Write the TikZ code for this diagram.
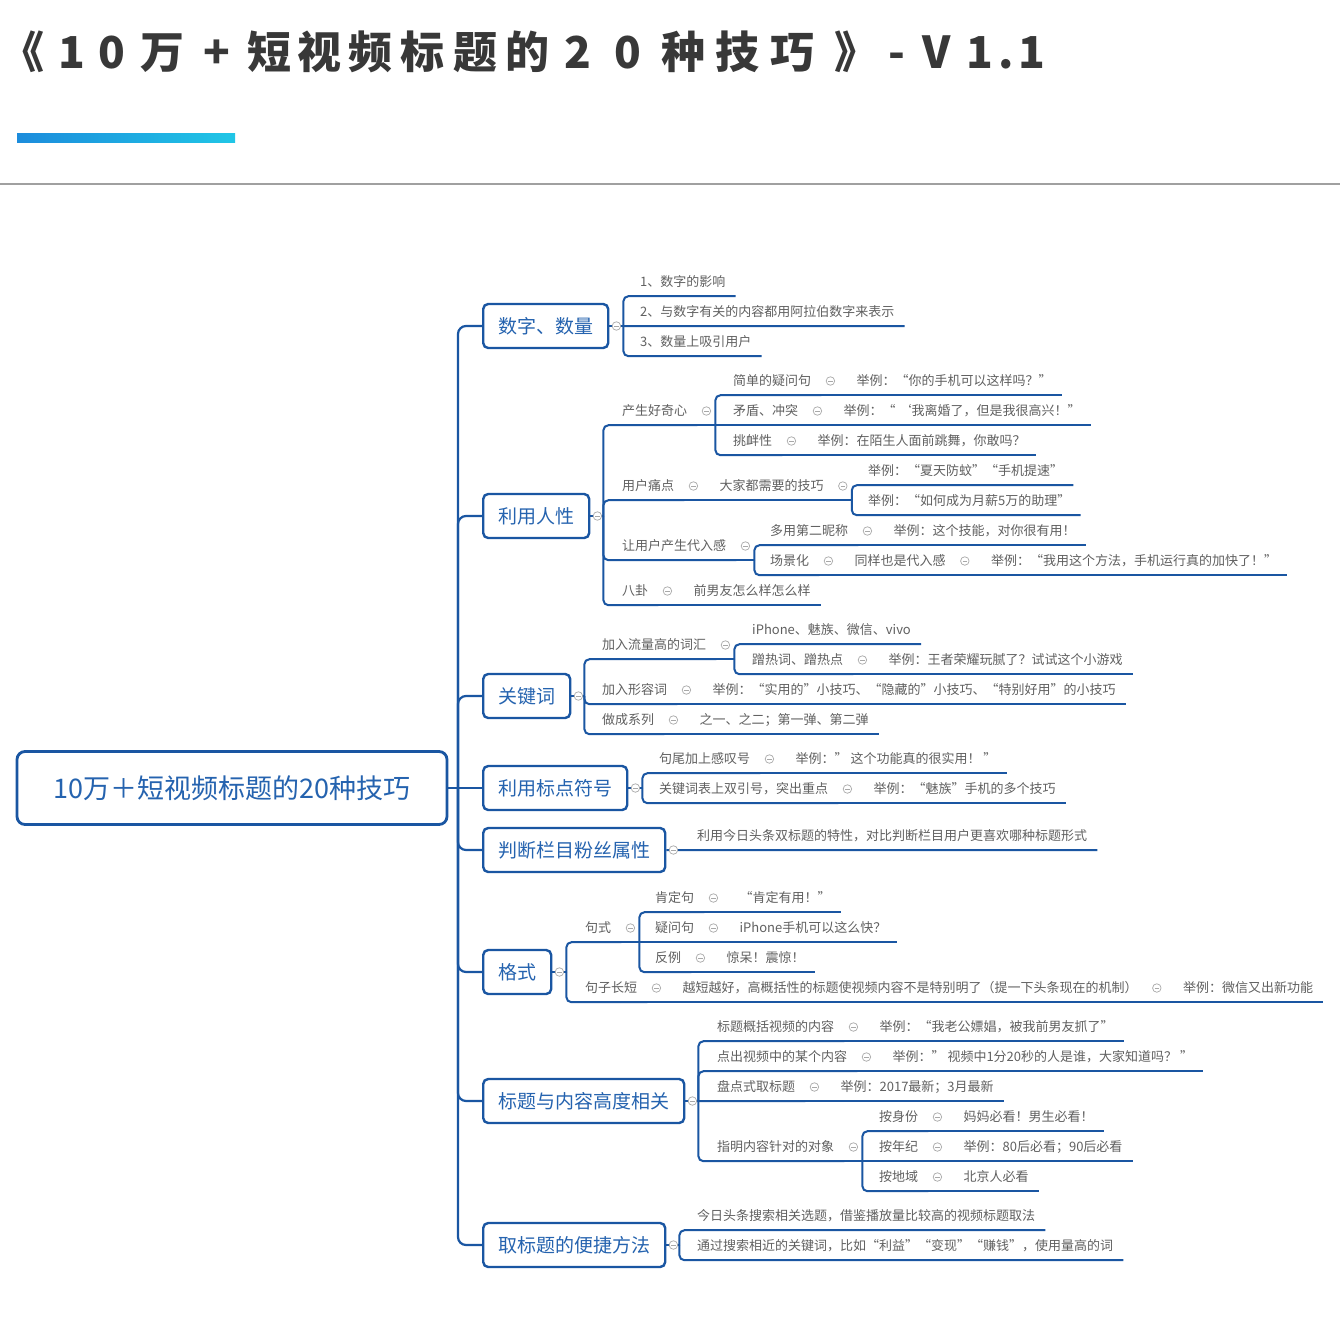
\documentclass[tikz,border=0pt]{standalone}
\usepackage{fontspec}
\setmainfont{Noto Sans CJK SC}
\newcommand\subsz{\fontsize{13}{15}\selectfont}
\newcommand\boxsz{\fontsize{19}{22}\selectfont}
\newcommand\rootsz{\fontsize{27}{30}\selectfont}
\newcommand\ttlsz{\fontsize{44}{48}\selectfont\bfseries}
\definecolor{lineblue}{HTML}{1A56A2}
\definecolor{textblue}{HTML}{2563AF}
\definecolor{subgray}{HTML}{606060}
\definecolor{mkgray}{HTML}{A8A8A8}
\definecolor{titlegray}{HTML}{383838}
\definecolor{sepgray}{HTML}{A0A0A0}
\definecolor{barL}{HTML}{1C8CDC}
\definecolor{barR}{HTML}{20C6E6}
\begin{document}
\begin{tikzpicture}[x=1pt,y=-1pt,
  ttl/.style={anchor=base, inner sep=0pt, font=\ttlsz, text=titlegray},
  rt/.style={draw=lineblue, line width=2.8pt, rounded corners=8pt, fill=white, minimum width=430pt, minimum height=73pt, font=\rootsz, text=textblue},
  bx/.style={draw=lineblue, line width=2.4pt, rounded corners=5pt, fill=white, minimum height=44pt, inner xsep=15pt, anchor=west, font=\boxsz, text=textblue},
  lf/.style={anchor=west, inner xsep=10pt, inner ysep=3pt, text height=15.94pt, text depth=6.06pt, font=\subsz, text=subgray},
  br/.style={draw=lineblue, line width=2pt, rounded corners=5pt},
  trunk/.style={draw=lineblue, line width=2.2pt, rounded corners=8pt},
  mk/.style={circle, draw=mkgray, fill=white, line width=0.7pt, minimum size=8.5pt, inner sep=0pt,
    path picture={\draw[mkgray, line width=0.7pt] ([xshift=-2.2pt]path picture bounding box.center) -- ([xshift=2.2pt]path picture bounding box.center);}}
]
\useasboundingbox (0,0) rectangle (1340,1333);
\fill[white] (0,0) rectangle (1340,1333);

% ---- header ----
\foreach \px/\ch [count=\i] in {23/《,72/1,112/0,162/万,217/+,269/短,319/视,370/频,422/标,475/题,527/的,578/2,628/0,683/种,737/技,792/巧,856/》,897/-,937/V,980/1,1006/.,1032/1}
  \node[ttl] (ttl\i) at (\px,68) {\ch};
\shade[left color=barL, right color=barR] (17,133) rectangle (235,142);
\draw[sepgray, line width=1.5pt] (0,184) -- (1340,184);

% ---- root and main topics ----
\node[rt] (root) at (232,788) {10万＋短视频标题的20种技巧};
\node[bx] (b1) at (482,326) {数字、数量};
\node[bx] (b2) at (482,516) {利用人性};
\node[bx] (b3) at (482,696) {关键词};
\node[bx] (b4) at (482,788) {利用标点符号};
\node[bx] (b5) at (482,850) {判断栏目粉丝属性};
\node[bx] (b6) at (482,972) {格式};
\node[bx] (b7) at (482,1101) {标题与内容高度相关};
\node[bx] (b8) at (482,1245) {取标题的便捷方法};

\coordinate (trk) at (458,788);
\draw[trunk] (root.east) -- (trk);
\foreach \b in {b1,b2,b3,b5,b6,b7,b8} \draw[trunk] (trk) |- (\b.west);
\draw[trunk] (trk) -- (b4.west);

% ---- 数字、数量 ----
\node[lf] (n11) at (630,282) {1、数字的影响};
\node[lf] (n12) at (630,312) {2、与数字有关的内容都用阿拉伯数字来表示};
\node[lf] (n13) at (630,342) {3、数量上吸引用户};
\coordinate (f1) at ([xshift=14pt]b1.east);
\draw[br] (b1.east) -- (f1);
\draw[br] (f1) |- (n11.south east);
\draw[br] (f1) -- (n12.south east);
\draw[br] (f1) |- (n13.south east);

% ---- 利用人性 ----
\node[lf] (n21) at (612,411) {产生好奇心};
\node[lf] (n22) at (612,486) {用户痛点};
\node[lf] (n22b) at ([xshift=25pt]n22.east) {大家都需要的技巧};
\node[lf] (n23) at (612,546) {让用户产生代入感};
\node[lf] (n24) at (612,591) {八卦};
\node[lf] (n24b) at ([xshift=25pt]n24.east) {前男友怎么样怎么样};
\node[lf] (n211) at (723,381) {简单的疑问句};
\node[lf] (n211b) at ([xshift=25pt]n211.east) {举例：“你的手机可以这样吗？”};
\node[lf] (n212) at (723,411) {矛盾、冲突};
\node[lf] (n212b) at ([xshift=25pt]n212.east) {举例：“ ‘我离婚了，但是我很高兴！”};
\node[lf] (n213) at (723,441) {挑衅性};
\node[lf] (n213b) at ([xshift=25pt]n213.east) {举例：在陌生人面前跳舞，你敢吗？};
\node[lf] (n221) at (858,471) {举例：“夏天防蚊”“手机提速”};
\node[lf] (n222) at (858,501) {举例：“如何成为月薪5万的助理”};
\node[lf] (n231) at (760,531) {多用第二昵称};
\node[lf] (n231b) at ([xshift=25pt]n231.east) {举例：这个技能，对你很有用！};
\node[lf] (n232) at (760,561) {场景化};
\node[lf] (n232b) at ([xshift=25pt]n232.east) {同样也是代入感};
\node[lf] (n232c) at ([xshift=25pt]n232b.east) {举例：“我用这个方法，手机运行真的加快了！”};

\coordinate (f2) at ([xshift=13pt]b2.east);
\draw[br] (b2.east) -- (f2);
\foreach \c in {n21,n22,n23,n24} \draw[br] (f2) |- (\c.south east);
\draw[br] (n22.south east) -- (n22b.south east);
\draw[br] (n24.south east) -- (n24b.south east);
\coordinate (f21) at ([xshift=18pt]n21.south east);
\draw[br] (n21.south east) -- (f21);
\draw[br] (f21) |- (n211.south east);
\draw[br] (f21) -- (n212.south east);
\draw[br] (f21) |- (n213.south east);
\draw[br] (n211.south east) -- (n211b.south east);
\draw[br] (n212.south east) -- (n212b.south east);
\draw[br] (n213.south east) -- (n213b.south east);
\coordinate (f22) at ([xshift=18pt]n22b.south east);
\draw[br] (n22b.south east) -- (f22);
\draw[br] (f22) |- (n221.south east);
\draw[br] (f22) |- (n222.south east);
\coordinate (f23) at ([xshift=18pt]n23.south east);
\draw[br] (n23.south east) -- (f23);
\draw[br] (f23) |- (n231.south east);
\draw[br] (f23) |- (n232.south east);
\draw[br] (n231.south east) -- (n231b.south east);
\draw[br] (n232.south east) -- (n232b.south east) -- (n232c.south east);

% ---- 关键词 ----
\node[lf] (n31) at (592,645) {加入流量高的词汇};
\node[lf] (n311) at (742,630) {iPhone、魅族、微信、vivo};
\node[lf] (n312) at (742,660) {蹭热词、蹭热点};
\node[lf] (n312b) at ([xshift=25pt]n312.east) {举例：王者荣耀玩腻了？试试这个小游戏};
\node[lf] (n32) at (592,690) {加入形容词};
\node[lf] (n32b) at ([xshift=25pt]n32.east) {举例：“实用的”小技巧、“隐藏的”小技巧、“特别好用”的小技巧};
\node[lf] (n33) at (592,720) {做成系列};
\node[lf] (n33b) at ([xshift=25pt]n33.east) {之一、之二；第一弹、第二弹};
\coordinate (f3) at ([xshift=13pt]b3.east);
\draw[br] (b3.east) -- (f3);
\foreach \c in {n31,n32,n33} \draw[br] (f3) |- (\c.south east);
\coordinate (f31) at ([xshift=18pt]n31.south east);
\draw[br] (n31.south east) -- (f31);
\draw[br] (f31) |- (n311.south east);
\draw[br] (f31) |- (n312.south east);
\draw[br] (n312.south east) -- (n312b.south east);
\draw[br] (n32.south east) -- (n32b.south east);
\draw[br] (n33.south east) -- (n33b.south east);

% ---- 利用标点符号 ----
\node[lf] (n41) at (649,759) {句尾加上感叹号};
\node[lf] (n41b) at ([xshift=25pt]n41.east) {举例：” 这个功能真的很实用！ ”};
\node[lf] (n42) at (649,789) {关键词表上双引号，突出重点};
\node[lf] (n42b) at ([xshift=25pt]n42.east) {举例：“魅族”手机的多个技巧};
\coordinate (f4) at ([xshift=14pt]b4.east);
\draw[br] (b4.east) -- (f4);
\draw[br] (f4) |- (n41.south east);
\draw[br] (f4) |- (n42.south east);
\draw[br] (n41.south east) -- (n41b.south east);
\draw[br] (n42.south east) -- (n42b.south east);

% ---- 判断栏目粉丝属性 ----
\node[lf] (n51) at (687,836) {利用今日头条双标题的特性，对比判断栏目用户更喜欢哪种标题形式};
\draw[br] (b5.east) -- (n51.south east);

% ---- 格式 ----
\node[lf] (n61) at (575,928) {句式};
\node[lf] (n611) at (645,898) {肯定句};
\node[lf] (n611b) at ([xshift=25pt]n611.east) {“肯定有用！”};
\node[lf] (n612) at (645,928) {疑问句};
\node[lf] (n612b) at ([xshift=25pt]n612.east) {iPhone手机可以这么快？};
\node[lf] (n613) at (645,958) {反例};
\node[lf] (n613b) at ([xshift=25pt]n613.east) {惊呆！震惊！};
\node[lf] (n62) at (575,988) {句子长短};
\node[lf] (n62b) at ([xshift=25pt]n62.east) {越短越好，高概括性的标题使视频内容不是特别明了（提一下头条现在的机制）};
\node[lf] (n62c) at ([xshift=25pt]n62b.east) {举例：微信又出新功能};
\coordinate (f6) at ([xshift=14pt]b6.east);
\draw[br] (b6.east) -- (f6);
\draw[br] (f6) |- (n61.south east);
\draw[br] (f6) |- (n62.south east);
\coordinate (f61) at ([xshift=18pt]n61.south east);
\draw[br] (n61.south east) -- (f61);
\draw[br] (f61) |- (n611.south east);
\draw[br] (f61) -- (n612.south east);
\draw[br] (f61) |- (n613.south east);
\draw[br] (n611.south east) -- (n611b.south east);
\draw[br] (n612.south east) -- (n612b.south east);
\draw[br] (n613.south east) -- (n613b.south east);
\draw[br] (n62.south east) -- (n62b.south east) -- (n62c.south east);

% ---- 标题与内容高度相关 ----
\node[lf] (n71) at (707,1027) {标题概括视频的内容};
\node[lf] (n71b) at ([xshift=25pt]n71.east) {举例：“我老公嫖娼，被我前男友抓了”};
\node[lf] (n72) at (707,1057) {点出视频中的某个内容};
\node[lf] (n72b) at ([xshift=25pt]n72.east) {举例：” 视频中1分20秒的人是谁，大家知道吗？ ”};
\node[lf] (n73) at (707,1087) {盘点式取标题};
\node[lf] (n73b) at ([xshift=25pt]n73.east) {举例：2017最新；3月最新};
\node[lf] (n74) at (707,1147) {指明内容针对的对象};
\node[lf] (n741) at (869,1117) {按身份};
\node[lf] (n741b) at ([xshift=25pt]n741.east) {妈妈必看！男生必看！};
\node[lf] (n742) at (869,1147) {按年纪};
\node[lf] (n742b) at ([xshift=25pt]n742.east) {举例：80后必看；90后必看};
\node[lf] (n743) at (869,1177) {按地域};
\node[lf] (n743b) at ([xshift=25pt]n743.east) {北京人必看};
\coordinate (f7) at ([xshift=13pt]b7.east);
\draw[br] (b7.east) -- (f7);
\draw[br] (f7) |- (n71.south east);
\draw[br] (f7) |- (n72.south east);
\draw[br] (f7) -- (n73.south east);
\draw[br] (f7) |- (n74.south east);
\draw[br] (n71.south east) -- (n71b.south east);
\draw[br] (n72.south east) -- (n72b.south east);
\draw[br] (n73.south east) -- (n73b.south east);
\coordinate (f74) at ([xshift=18pt]n74.south east);
\draw[br] (n74.south east) -- (f74);
\draw[br] (f74) |- (n741.south east);
\draw[br] (f74) -- (n742.south east);
\draw[br] (f74) |- (n743.south east);
\draw[br] (n741.south east) -- (n741b.south east);
\draw[br] (n742.south east) -- (n742b.south east);
\draw[br] (n743.south east) -- (n743b.south east);

% ---- 取标题的便捷方法 ----
\node[lf] (n81) at (687,1216) {今日头条搜索相关选题，借鉴播放量比较高的视频标题取法};
\node[lf] (n82) at (687,1246) {通过搜索相近的关键词，比如“利益”“变现”“赚钱”，使用量高的词};
\coordinate (f8) at ([xshift=13pt]b8.east);
\draw[br] (b8.east) -- (f8);
\draw[br] (f8) |- (n81.south east);
\draw[br] (f8) |- (n82.south east);

% ---- collapse markers ----
\foreach \m in {b1,b2,b3,b4,b5,b6,b7,b8}
  \node[mk] (mk-\m) at ([xshift=7pt]\m.east) {};
\foreach \m in {n21,n22,n22b,n23,n24,n211,n212,n213,n231,n232,n232b,n31,n312,n32,n33,n41,n42,n61,n611,n612,n613,n62,n62b,n71,n72,n73,n74,n741,n742,n743}
  \node[mk] (mk-\m) at ([xshift=9pt]\m.east) {};
\end{tikzpicture}
\end{document}
